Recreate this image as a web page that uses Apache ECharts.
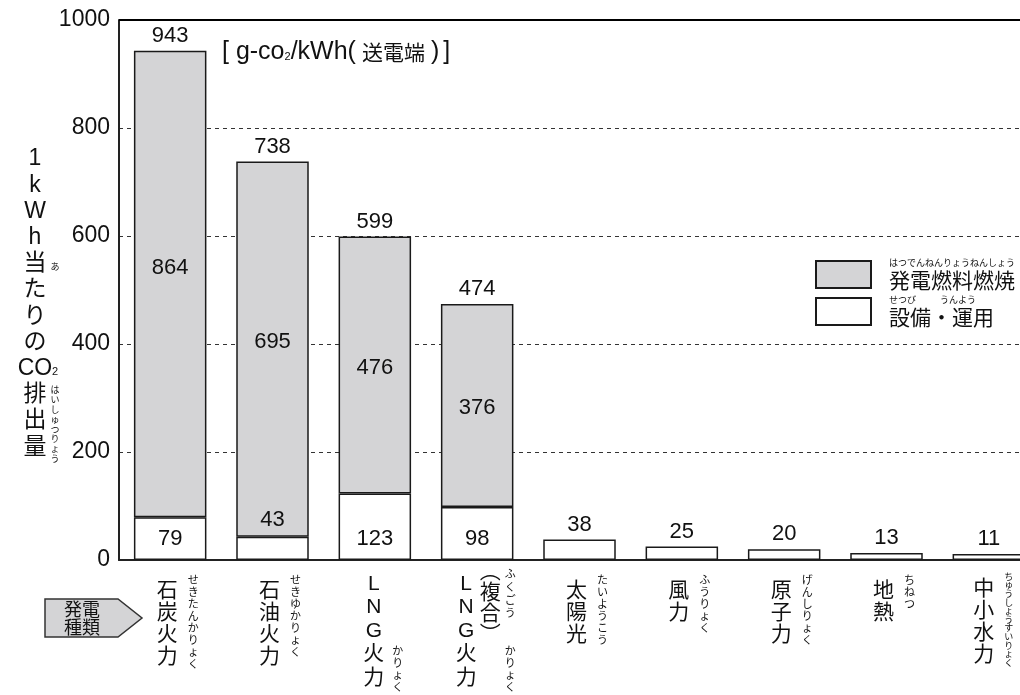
<!DOCTYPE html>
<html><head><meta charset="utf-8">
<script src="https://cdn.jsdelivr.net/npm/echarts@6/dist/echarts.min.js"></script>
<style>html,body{margin:0;padding:0;background:#fff}#c{width:1020px;height:695px}</style>
</head><body><div id="c"></div>
<script>
// ---- data ----
const categories = ['石炭火力', '石油火力', 'LNG火力', 'LNG(複合)火力', '太陽光', '風力', '原子力', '地熱', '中小水力'];
const categoryRuby = ['せきたんかりょく', 'せきゆかりょく', 'かりょく', 'ふくごう|かりょく', 'たいようこう', 'ふうりょく', 'げんしりょく', 'ちねつ', 'ちゅうしょうすいりょく'];
const fuelValues = [864, 695, 476, 376, 0, 0, 0, 0, 0];
const facilityValues = [79, 43, 123, 98, 38, 25, 20, 13, 11];
const totalValues = [943, 738, 599, 474, 38, 25, 20, 13, 11];
const yTickLabels = ['0', '200', '400', '600', '800', '1000'];
const yMax = 1000;
const seriesNames = ['発電燃料燃焼', '設備・運用'];
const seriesRuby = ['はつでんねんりょうねんしょう', 'せつび|うんよう'];

// ---- styles ----
const NUM = 'Liberation Sans, Arial, Noto Sans CJK JP, sans-serif';
const JP = 'Noto Sans CJK JP, sans-serif';
const INK = '#111';
const GRAY = '#d4d4d6';
const fuelLabelShift = [-16, -7, 3, 2, 0, 0, 0, 0, 0];

const chart = echarts.init(document.getElementById('c'), null, {renderer: 'canvas'});

const facilityData = facilityValues.map((v, i) => {
  let label;
  if (fuelValues[i] === 0) label = {show: false};
  else if (v < 60) label = {show: true, position: 'top', distance: 6};
  else label = {show: true, position: 'insideBottom', distance: 10};
  return {value: v, label};
});
const fuelData = fuelValues.map((v, i) => ({
  value: v,
  itemStyle: v === 0 ? {borderWidth: 0} : {},
  label: {show: v > 0, position: 'inside', offset: [0, fuelLabelShift[i]]}
}));
const totalData = totalValues.map(() => 0);

const legendFmt = {};
legendFmt[seriesNames[0]] = '{r|' + seriesRuby[0] + '}\n{t|' + seriesNames[0] + '}';
const r2 = seriesRuby[1].split('|');
legendFmt[seriesNames[1]] = '{r|' + r2[0] + '}{r2|' + r2[1] + '}\n{t|' + seriesNames[1] + '}';

const option = {
  animation: false,
  backgroundColor: '#fff',
  grid: {left: 119, top: 20, width: 921, height: 540, outerBoundsMode: 'none', containLabel: false},
  legend: {
    show: true, orient: 'vertical', left: 815, top: 258, padding: 0, itemGap: 4,
    itemWidth: 55, itemHeight: 27, icon: 'rect', selectedMode: false,
    data: seriesNames,
    formatter: n => legendFmt[n],
    textStyle: {
      rich: {
        r: {fontSize: 9, fontFamily: JP, color: INK, lineHeight: 12, padding: [0, 0, 0, 13]},
        r2: {fontSize: 9, fontFamily: JP, color: INK, lineHeight: 12, padding: [0, 0, 0, 24]},
        t: {fontSize: 21, fontFamily: JP, color: INK, lineHeight: 24, padding: [0, 0, 0, 13]}
      }
    }
  },
  xAxis: {
    type: 'category', data: categories,
    axisLine: {lineStyle: {color: '#222', width: 2}},
    axisTick: {show: false}, axisLabel: {show: false}
  },
  yAxis: {
    type: 'value', min: 0, max: yMax, interval: 200,
    axisLine: {show: true, lineStyle: {color: '#222', width: 2}},
    axisTick: {show: false},
    axisLabel: {fontSize: 23, fontFamily: NUM, color: INK, margin: 9,
      formatter: v => yTickLabels[Math.round(v / 200)]},
    splitLine: {show: true, lineStyle: {color: '#333', width: 1, type: [4, 4]}}
  },
  series: [
    {
      name: seriesNames[1], type: 'bar', stack: 'a', barWidth: 72.5,
      data: facilityData,
      itemStyle: {color: '#fff', borderColor: '#1a1a1a', borderWidth: 1.5},
      label: {color: INK, fontSize: 22, fontFamily: NUM}
    },
    {
      name: seriesNames[0], type: 'bar', stack: 'a', barWidth: 72.5,
      data: fuelData,
      itemStyle: {color: GRAY, borderColor: '#1a1a1a', borderWidth: 1.5},
      label: {color: INK, fontSize: 22, fontFamily: NUM}
    },
    {
      name: 'total', type: 'bar', stack: 'a', barWidth: 72.5,
      data: totalData,
      itemStyle: {color: 'transparent', borderWidth: 0},
      label: {show: true, position: 'top', distance: 4, color: INK, fontSize: 22, fontFamily: NUM,
        formatter: p => String(totalValues[p.dataIndex])},
      markLine: {
        silent: true, symbol: 'none', animation: false,
        label: {show: false},
        lineStyle: {color: '#000', width: 2, type: 'solid'},
        data: [{yAxis: yMax}]
      }
    }
  ]
};
chart.setOption(option);

function vtext(str, x, y, size, lh, family) {
  return {type: 'text', x, y, z: 10, silent: true,
    style: {text: str.split('').join('\n'), fill: INK, fontSize: size, fontFamily: family || JP,
      lineHeight: lh, align: 'center', textAlign: 'center', verticalAlign: 'top', textVerticalAlign: 'top'}};
}

const graphics = [];
categories.forEach((name, i) => {
  const cx = chart.convertToPixel({xAxisIndex: 0}, i);
  const ruby = categoryRuby[i];
  if (name === 'LNG火力') {
    graphics.push(vtext('LNG火力', cx - 1, 572, 21, 23.5, NUM));
    graphics.push(vtext(ruby, cx + 23, 645, 11, 12));
  } else if (name === 'LNG(複合)火力') {
    const rs = ruby.split('|');
    graphics.push(vtext('LNG火力', cx - 11, 572, 21, 23.5, NUM));
    graphics.push(vtext('︵複合︶', cx + 13, 560, 21, 21));
    graphics.push(vtext(rs[0], cx + 33, 567, 11, 13));
    graphics.push(vtext(rs[1], cx + 33, 645, 11, 12));
  } else if (ruby.length > 9) {
    graphics.push(vtext(name, cx - 5, 576, 21, 22));
    graphics.push(vtext(ruby, cx + 20, 572, 9, 8.6));
  } else {
    graphics.push(vtext(name, cx - 3, 578, 21, 22));
    graphics.push(vtext(ruby, cx + 23, 574, 11, 12));
  }
});

// y axis title (vertical) with ruby
graphics.push({type: 'text', x: 35, y: 146, silent: true,
  style: {text: ['1', 'k', 'W', 'h', '当', 'た', 'り', 'の', 'CO', '排', '出', '量'].join('\n'),
    fill: INK, fontSize: 23, fontFamily: NUM, lineHeight: 26.2,
    align: 'center', textAlign: 'center', verticalAlign: 'top', textVerticalAlign: 'top'}});
graphics.push({type: 'text', x: 55, y: 366, silent: true,
  style: {text: '2', fill: INK, fontSize: 11, fontFamily: NUM, align: 'center', textAlign: 'center', verticalAlign: 'top', textVerticalAlign: 'top'}});
graphics.push(vtext('あ', 55, 262, 9, 10));
graphics.push(vtext('はいしゅつりょう', 55, 385, 9, 9.8));

// unit annotation
graphics.push({type: 'text', x: 222, y: 52, silent: true,
  style: {text: '{a|[ g-co}{s|2}{a|/kWh(}{k|送電端}{a|)}{b|]}', fill: INK,
    verticalAlign: 'middle', textVerticalAlign: 'middle',
    rich: {
      a: {fontSize: 25, fontFamily: NUM, fill: INK, color: INK},
      b: {fontSize: 25, fontFamily: NUM, fill: INK, color: INK, padding: [0, 0, 0, 4]},
      s: {fontSize: 11, fontFamily: NUM, fill: INK, color: INK, padding: [9, 0, 0, 0]},
      k: {fontSize: 21, fontFamily: JP, fill: INK, color: INK, padding: [0, 6, 0, 6]}
    }}});

// 発電種類 arrow
graphics.push({type: 'polygon', silent: true,
  shape: {points: [[45, 599], [118, 599], [142, 618], [118, 637], [45, 637]]},
  style: {fill: GRAY, stroke: '#333', lineWidth: 1.5}});
graphics.push({type: 'text', x: 82, y: 618, silent: true, z: 10,
  style: {text: '発電\n種類', fill: INK, fontSize: 18, fontFamily: JP, lineHeight: 18.5,
    align: 'center', textAlign: 'center', verticalAlign: 'middle', textVerticalAlign: 'middle'}});

chart.setOption({graphic: graphics});
</script>
</body></html>
